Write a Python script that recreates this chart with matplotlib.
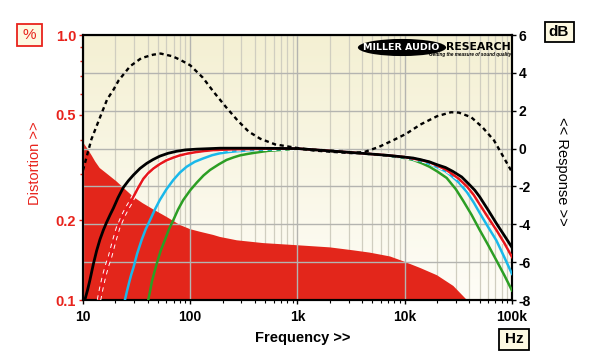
import numpy as np
import matplotlib
matplotlib.use('Agg')
import matplotlib.pyplot as plt
from matplotlib.colors import LinearSegmentedColormap
from matplotlib.patches import Ellipse, Rectangle
from matplotlib.ticker import NullFormatter

plt.rcParams['font.family'] = ['Liberation Sans', 'DejaVu Sans']

# distortion (%)
dist_freq = [10, 11, 12, 13, 14.3, 17, 20.6, 23.6, 29.5, 36, 45, 60, 80, 100, 123, 164, 189,
             272, 478, 983, 2000, 3300, 4700, 7300, 9700, 14000, 20000, 28400, 38000,
             50000, 100000]
dist_pct = [0.394, 0.372, 0.352, 0.333, 0.315, 0.298, 0.28, 0.266, 0.245, 0.232, 0.22,
            0.206, 0.192, 0.185, 0.181, 0.176, 0.173, 0.168, 0.164, 0.161, 0.158, 0.154,
            0.151, 0.146, 0.140, 0.132, 0.124, 0.113, 0.100, 0.088, 0.07]

# response curves (dB)
black_freq = [10.4, 11.0, 11.6, 12.5, 13.4, 14.4, 15.5, 16.6, 17.9, 19.2, 21.2, 23.8, 26.5,
              29.5, 34, 39.3, 45, 52, 62, 75, 90, 115, 190, 400, 1000, 2000, 4000, 7000,
              10000, 12000, 14000, 17000, 20000, 24000, 28000, 34000, 40000, 45000, 50000,
              60000, 71500, 85000, 100000]
black_db = [-8.0, -7.5, -6.95, -6.1, -5.4, -4.8, -4.3, -3.9, -3.5, -3.15, -2.6, -2.05, -1.7,
            -1.4, -1.05, -0.78, -0.58, -0.4, -0.25, -0.14, -0.07, -0.03, 0.02, 0.02, 0.0,
            -0.12, -0.25, -0.36, -0.45, -0.5, -0.58, -0.7, -0.85, -1.0, -1.2, -1.5, -1.9,
            -2.2, -2.55, -3.25, -3.95, -4.6, -5.22]

red_freq = [14.1, 14.8, 15.5, 16.6, 17.9, 19.5, 21.2, 23.5, 25.5, 27.4, 29.5, 32.5, 36.5,
            40.5, 45.4, 52, 60, 70, 80, 95, 115, 140, 165, 250, 500, 1000, 2000, 4000, 7000,
            10000, 14000, 17000, 20000, 24000, 27000, 32000, 38000, 44000, 50000, 60000,
            71500, 85000, 100000]
red_db = [-8.0, -7.4, -6.9, -6.25, -5.7, -4.9, -4.2, -3.6, -3.2, -2.9, -2.55, -2.1, -1.6,
          -1.3, -1.05, -0.82, -0.62, -0.47, -0.36, -0.26, -0.18, -0.12, -0.08, -0.04, -0.01,
          0.0, -0.12, -0.25, -0.36, -0.45, -0.6, -0.72, -0.9, -1.1, -1.3, -1.6, -2.0, -2.45,
          -2.95, -3.65, -4.3, -5.0, -5.73]

cyan_freq = [24.6, 25.8, 27, 28.2, 29.5, 32, 35.2, 38.5, 42.2, 47, 52, 60, 69.5, 80, 92.5,
             110, 132, 160, 189, 230, 272, 370, 500, 1000, 2000, 4000, 7000, 10000, 14000,
             17000, 20000, 24000, 27000, 32000, 38000, 44000, 50000, 60000, 71500, 85000,
             100000]
cyan_db = [-8.0, -7.5, -7.05, -6.65, -6.3, -5.55, -4.83, -4.25, -3.78, -3.2, -2.72, -2.15,
           -1.66, -1.27, -0.96, -0.7, -0.52, -0.35, -0.25, -0.18, -0.14, -0.08, -0.05, 0.0,
           -0.12, -0.25, -0.37, -0.47, -0.64, -0.8, -0.98, -1.2, -1.42, -1.8, -2.3, -2.85,
           -3.4, -4.15, -4.85, -5.75, -6.62]

green_freq = [40.6, 42.3, 44, 46.2, 48.6, 53, 58, 63.5, 69.5, 77, 86, 100, 115, 133, 153,
              185, 218, 255, 291, 345, 400, 530, 740, 1000, 2000, 4000, 7000, 10000, 12000,
              14500, 17000, 20000, 24600, 30000, 35000, 42000, 50000, 60000, 71500, 85000,
              100000]
green_db = [-8.0, -7.5, -7.0, -6.55, -6.1, -5.4, -4.83, -4.25, -3.78, -3.22, -2.72, -2.2,
            -1.8, -1.42, -1.13, -0.83, -0.6, -0.46, -0.36, -0.28, -0.22, -0.12, -0.06, 0.0,
            -0.12, -0.25, -0.38, -0.5, -0.6, -0.78, -0.96, -1.2, -1.55, -2.15, -2.75, -3.5,
            -4.3, -5.1, -5.9, -6.7, -7.5]

dash_freq = [10, 11.1, 12, 13.1, 14.3, 16.8, 19.2, 21.5, 27.5, 35, 45, 53, 68, 80, 100, 131,
             165, 215, 275, 350, 450, 620, 1000, 1400, 2200, 3200, 4200, 5700, 8000, 10300,
             14000, 20000, 27000, 32000, 41600, 53000, 68000, 80000, 100000]
dash_db = [-1.15, -0.2, 0.5, 1.05, 1.6, 2.6, 3.1, 3.6, 4.35, 4.78, 4.96, 5.02, 4.88, 4.7,
           4.4, 3.75, 3.0, 2.2, 1.5, 0.9, 0.52, 0.22, 0.03, -0.1, -0.18, -0.24, -0.18, 0.08,
           0.47, 0.78, 1.27, 1.71, 1.92, 1.9, 1.66, 1.13, 0.43, -0.27, -1.24]

freq_ticks = [10, 100, 1000, 10000, 100000]
freq_labels = ['10', '100', '1k', '10k', '100k']
dist_ticks = [0.1, 0.2, 0.5, 1.0]
dist_labels = ['0.1', '0.2', '0.5', '1.0']
dist_minor = [0.3, 0.4, 0.6, 0.7, 0.8, 0.9]
db_ticks = [-8, -6, -4, -2, 0, 2, 4, 6]

RED = '#e3261b'
TXT_RED = '#e8231c'

fig = plt.figure(figsize=(6, 3.64), dpi=100)
rect = [0.1383, 0.1758, 0.715, 0.728]

# cream background gradient
bg = fig.add_axes(rect, zorder=-1)
cmap = LinearSegmentedColormap.from_list('bg', ['#fefdf7', '#f4f0d3'])
bg.imshow(np.linspace(0, 1, 256).reshape(-1, 1), cmap=cmap, origin='lower',
          aspect='auto', extent=[0, 1, 0, 1])
bg.axis('off')

ax = fig.add_axes(rect)
ax.patch.set_visible(False)
ax.set_xscale('log')
ax.set_yscale('log')
ax.set_xlim(10, 100000)
ax.set_ylim(0.1, 1.0)
ax.set_axisbelow(True)
ax.grid(which='minor', axis='x', color='#d0cec0', lw=0.9)
ax.fill_between(dist_freq, dist_pct, 0.01, color=RED, lw=0, zorder=1)

ax.set_xticks(freq_ticks, freq_labels)
ax.set_yticks(dist_ticks, dist_labels)
ax.set_yticks(dist_minor, minor=True)
ax.yaxis.set_minor_formatter(NullFormatter())
ax.xaxis.set_minor_formatter(NullFormatter())
ax.tick_params(axis='x', which='major', direction='out', length=3, width=1,
               labelsize=10, pad=4)
ax.tick_params(axis='x', which='minor', direction='out', length=2.5, width=0.8)
ax.tick_params(axis='y', which='major', direction='out', length=3, width=1,
               colors=TXT_RED, labelsize=10.5, pad=2)
ax.tick_params(axis='y', which='minor', direction='out', length=2, width=1,
               colors=TXT_RED)
plt.setp(ax.get_xticklabels(), fontweight='bold')
plt.setp(ax.get_yticklabels(), fontweight='bold')

ax2 = ax.twinx()
ax2.set_ylim(-8, 6)
ax2.set_yticks(db_ticks, [str(v) for v in db_ticks])
ax2.xaxis.set_visible(True)
ax2.tick_params(axis='x', which='both', length=0, labelbottom=False)
ax2.set_axisbelow(True)
ax2.grid(which='major', axis='both', color='#b4b4b0', lw=1.0)
ax2.tick_params(axis='y', direction='out', length=3, width=1, labelsize=10, pad=2)
plt.setp(ax2.get_yticklabels(), fontweight='bold')

ax2.plot(green_freq, green_db, color='#2c9e24', lw=1.8, zorder=3)
ax2.plot(cyan_freq, cyan_db, color='#1ab8ea', lw=1.8, zorder=3)
ax2.plot(red_freq, red_db, color='white', lw=3.2, ls=(0, (1, 1)), zorder=3)
ax2.plot(red_freq, red_db, color='#e8161b', lw=1.8, zorder=3)
ax2.plot(black_freq, black_db, color='black', lw=2.0, zorder=3)
ax2.plot(dash_freq, dash_db, color='black', lw=1.7, ls=(0, (1.8, 1.5)), zorder=4)

for a in (ax, ax2):
    for s in a.spines.values():
        s.set_linewidth(1.5)
        s.set_color('black')

# labels
fig.text(0.058, 0.552, 'Distortion >>', color=TXT_RED, rotation=90, fontsize=10.5,
         ha='center', va='center')
fig.text(0.937, 0.53, '<< Response >>', color='black', rotation=-90, fontsize=10.5,
         ha='center', va='center')
fig.text(0.505, 0.072, 'Frequency >>', fontsize=10.5, fontweight='bold',
         ha='center', va='center')


def unit_box(cx, cy, w, h, label, color, weight='bold'):
    # cx, cy, w, h in pixels (from top-left)
    fig.add_artist(Rectangle(((cx - w / 2) / 600, 1 - (cy + h / 2) / 364),
                             w / 600, h / 364, transform=fig.transFigure,
                             fc='#fdf9e2', ec=color, lw=1.3))
    fig.text(cx / 600, 1 - cy / 364, label, color=color, fontsize=11, fontweight=weight,
             ha='center', va='center')


unit_box(29, 35, 25, 21, '%', TXT_RED, 'normal')
unit_box(559, 32, 29, 20, 'dB', 'black')
unit_box(514, 339, 30, 21, 'Hz', 'black')

# logo
fig.add_artist(Ellipse((0.67, 0.8695), 0.147, 0.047, transform=fig.transFigure,
                       fc='black', ec='none'))
fig.text(0.668, 0.8695, 'MILLER AUDIO', color='white', fontsize=6.8, fontweight='heavy',
         family='DejaVu Sans', ha='center', va='center')
fig.text(0.852, 0.872, 'RESEARCH', color='black', fontsize=7.8, fontweight='heavy',
         family='DejaVu Sans', ha='right', va='center')
fig.text(0.852, 0.851, 'Getting the measure of sound quality', color='black', fontsize=3.3,
         fontweight='bold', style='italic', ha='right', va='center')

fig.savefig('out.png', dpi=100)
